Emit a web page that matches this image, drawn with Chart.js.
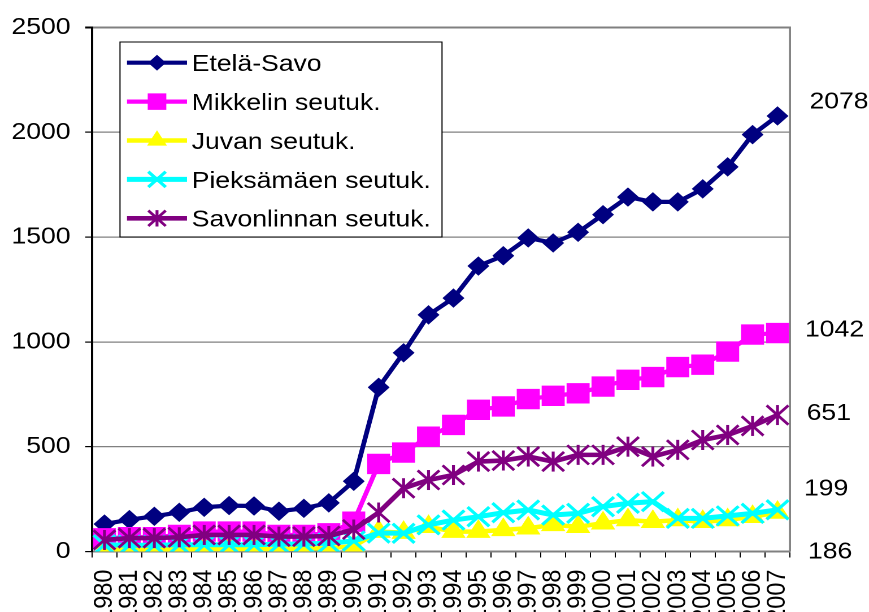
<!DOCTYPE html>
<html lang="fi">
<head>
<meta charset="utf-8">
<title>Etelä-Savo</title>
<script src="https://cdn.jsdelivr.net/npm/chart.js@4.4.1/dist/chart.umd.min.js"></script>
<style>
html,body{margin:0;padding:0;background:#fff;width:869px;height:612px;overflow:hidden}
#wrap{position:absolute;left:0;top:0;transform-origin:0 0}
</style>
</head>
<body>
<div id="wrap"><canvas id="chart"></canvas></div>
<script>
// ---------------- data ----------------
const years = ['1980','1981','1982','1983','1984','1985','1986','1987','1988','1989',
  '1990','1991','1992','1993','1994','1995','1996','1997','1998','1999',
  '2000','2001','2002','2003','2004','2005','2006','2007'];
const seriesNames = ['Etelä-Savo','Mikkelin seutuk.','Juvan seutuk.','Pieksämäen seutuk.','Savonlinnan seutuk.'];
const etelaSavo        = [131,152,168,187,211,219,217,192,206,232,335,783,948,1129,1209,1362,1411,1496,1472,1523,1607,1691,1668,1668,1730,1835,1989,2078];
const mikkelinSeutuk   = [63,68,68,79,95,95,95,79,79,87,142,418,472,548,604,676,692,727,743,755,787,819,832,880,891,954,1035,1042];
const juvanSeutuk      = [10,8,10,10,12,12,12,12,14,16,25,95,90,118,95,95,103,111,127,118,135,150,142,150,142,150,166,186];
const pieksamaenSeutuk = [32,30,30,32,32,32,32,35,36,40,50,88,87,127,150,166,185,198,174,182,214,230,238,158,158,170,182,199];
const savonlinnanSeutuk= [55,64,64,68,79,79,79,71,71,74,105,186,302,341,365,429,434,453,429,461,461,500,453,485,532,556,599,651];
const yTicks = [0,500,1000,1500,2000,2500];

// ---------------- layout / styles ----------------
const SX = 1.13;               // horizontal stretch of the original picture
const W = 869 / SX, H = 660;
const wrap = document.getElementById('wrap');
wrap.style.width = W + 'px';
wrap.style.height = H + 'px';
wrap.style.transform = 'scaleX(' + SX + ')';

const FONT = "'Liberation Sans', Arial, Helvetica, sans-serif";
const FS = 23.5;
Chart.defaults.font.family = FONT;
Chart.defaults.font.size = FS;
Chart.defaults.color = '#000';

const PLOT = {left: 92 / SX, right: 790 / SX, top: 27.5, bottom: 551.5};

const styles = [
  {color:'#000080', point:'rectRot',  r:9,    bw:1,   lw:4.2},
  {color:'#FF00FF', point:'rect',     r:13.7, bw:1,   lw:4.2},
  {color:'#FFFF00', point:'triangle', r:11.5, bw:1,   lw:4.5},
  {color:'#00FFFF', point:'crossRot', r:13.6, bw:3,   lw:5},
  {color:'#800080', point:'crossRot', r:13.6, bw:2.6, lw:4.6, star:true}
];

const seriesData = [etelaSavo, mikkelinSeutuk, juvanSeutuk, pieksamaenSeutuk, savonlinnanSeutuk];
const datasets = seriesData.map((d, i) => ({
  label: seriesNames[i],
  data: d,
  borderColor: styles[i].color,
  backgroundColor: styles[i].color,
  borderWidth: styles[i].lw,
  borderJoinStyle: 'round',
  borderCapStyle: 'round',
  pointStyle: styles[i].point,
  pointRadius: styles[i].r,
  pointHoverRadius: styles[i].r,
  pointBorderWidth: styles[i].bw,
  pointBackgroundColor: styles[i].color,
  pointBorderColor: styles[i].color,
  starMarker: !!styles[i].star,
  tension: 0,
  fill: false,
  order: seriesData.length - 1 - i
}));

// ---------------- helpers ----------------
function drawMarker(ctx, type, x, y, r, bw, color, star) {
  ctx.save();
  ctx.fillStyle = color; ctx.strokeStyle = color; ctx.lineWidth = bw;
  ctx.beginPath();
  if (type === 'rectRot') {
    ctx.moveTo(x, y - r); ctx.lineTo(x + r, y); ctx.lineTo(x, y + r); ctx.lineTo(x - r, y); ctx.closePath();
    ctx.fill(); ctx.stroke();
  } else if (type === 'rect') {
    const s = Math.SQRT1_2 * r;
    ctx.rect(x - s, y - s, 2 * s, 2 * s); ctx.fill(); ctx.stroke();
  } else if (type === 'triangle') {
    ctx.moveTo(x, y - r); ctx.lineTo(x + 0.866 * r, y + 0.5 * r); ctx.lineTo(x - 0.866 * r, y + 0.5 * r); ctx.closePath();
    ctx.fill(); ctx.stroke();
  } else if (type === 'crossRot') {
    const o = Math.SQRT1_2 * r;
    ctx.moveTo(x - o, y - o); ctx.lineTo(x + o, y + o);
    ctx.moveTo(x + o, y - o); ctx.lineTo(x - o, y + o);
    if (star) { ctx.moveTo(x, y - o * 1.06); ctx.lineTo(x, y + o * 1.06); }
    ctx.stroke();
  }
  ctx.restore();
}

const frame = {
  id: 'frame',
  beforeDatasetsDraw(chart) {
    const {ctx, chartArea: a} = chart;
    ctx.save();
    ctx.strokeStyle = '#808080'; ctx.lineWidth = 2 / SX;
    ctx.beginPath(); ctx.moveTo(a.right, a.top - 1); ctx.lineTo(a.right, a.bottom); ctx.stroke();
    ctx.restore();
  }
};

const starStems = {
  id: 'starStems',
  afterDatasetDraw(chart, args, o) {
    const ds = chart.data.datasets[args.index];
    if (!ds.starMarker) return;
    const ctx = chart.ctx;
    ctx.save();
    ctx.strokeStyle = ds.pointBorderColor; ctx.lineWidth = ds.pointBorderWidth;
    args.meta.data.forEach(pt => {
      ctx.beginPath(); ctx.moveTo(pt.x, pt.y - o.half); ctx.lineTo(pt.x, pt.y + o.half); ctx.stroke();
    });
    ctx.restore();
  }
};

const legendBox = {
  id: 'legendBox',
  afterDraw(chart, args, o) {
    const {ctx, chartArea: a} = chart;
    const x0 = a.left + o.dx, y0 = a.top + o.dy;
    ctx.save();
    ctx.fillStyle = '#fff'; ctx.fillRect(x0, y0, o.w, o.h);
    ctx.strokeStyle = '#000'; ctx.lineWidth = 1; ctx.strokeRect(x0, y0, o.w, o.h);
    chart.data.datasets.forEach((ds, i) => {
      const cy = y0 + o.firstRow + i * o.rowGap;
      ctx.strokeStyle = ds.borderColor; ctx.lineWidth = ds.borderWidth; ctx.lineCap = 'butt';
      ctx.beginPath(); ctx.moveTo(x0 + o.lineX0, cy); ctx.lineTo(x0 + o.lineX1, cy); ctx.stroke();
      drawMarker(ctx, ds.pointStyle, x0 + (o.lineX0 + o.lineX1) / 2, cy,
        ds.pointRadius * o.markerScale, ds.pointBorderWidth, ds.borderColor, ds.starMarker);
      ctx.fillStyle = '#000'; ctx.font = FS + 'px ' + FONT;
      ctx.textAlign = 'left'; ctx.textBaseline = 'alphabetic';
      ctx.fillText(ds.label, x0 + o.textX, cy + 0.358 * FS);
    });
    ctx.restore();
  }
};

const endLabels = {
  id: 'endLabels',
  afterDraw(chart, args, o) {
    const {ctx, chartArea: a, scales} = chart;
    ctx.save();
    ctx.fillStyle = '#000'; ctx.font = FS + 'px ' + FONT;
    ctx.textAlign = 'left'; ctx.textBaseline = 'alphabetic';
    chart.data.datasets.forEach((ds, i) => {
      const v = ds.data[ds.data.length - 1];
      const yy = scales.y.getPixelForValue(v) + o.dy[i];
      ctx.fillText(String(v), a.right + o.dx[i], yy + 0.358 * FS);
    });
    ctx.restore();
  }
};

// ---------------- chart ----------------
new Chart(document.getElementById('chart'), {
  type: 'line',
  data: {labels: years, datasets},
  plugins: [frame, starStems, legendBox, endLabels],
  options: {
    responsive: true,
    maintainAspectRatio: false,
    devicePixelRatio: 2,
    animation: false,
    events: [],
    layout: {padding: {top: PLOT.top, right: W - PLOT.right, bottom: 0, left: 0}},
    plugins: {
      legend: {display: false},
      tooltip: {enabled: false},
      starStems: {half: 10},
      legendBox: {
        dx: (120 - 92) / SX, dy: 42 - 27.5, w: (442 - 120) / SX, h: 195,
        firstRow: 20.7, rowGap: 38.9,
        lineX0: 7 / SX, lineX1: 67 / SX, textX: 71.7 / SX, markerScale: 0.8
      },
      endLabels: {
        dx: [19.5 / SX, 15 / SX, 18 / SX, 14 / SX, 16.7 / SX],
        dy: [-16, -4.8, 37.5, -22.5, -3.4]
      }
    },
    scales: {
      x: {
        type: 'category',
        offset: true,
        grid: {display: true, drawOnChartArea: false, drawTicks: true, tickLength: 6,
               color: '#000', lineWidth: 1, offset: true},
        border: {display: true, color: '#808080', width: 2},
        ticks: {autoSkip: false, minRotation: 90, maxRotation: 90, padding: 12,
                font: {size: FS}},
        afterFit(s) { s.height = H - PLOT.bottom; }
      },
      y: {
        type: 'linear',
        min: 0, max: 2500,
        afterBuildTicks(s) { s.ticks = yTicks.map(v => ({value: v})); },
        grid: {color: '#808080',
               lineWidth: c => (c.tick && c.tick.value === 2500) ? 2 : 1.2,
               tickColor: '#000', tickLength: 6, drawTicks: true},
        border: {display: true, color: '#000', width: 2},
        ticks: {padding: 13, font: {size: FS}, callback: v => String(v)},
        afterFit(s) { s.width = PLOT.left; }
      }
    }
  }
});
</script>
</body>
</html>
